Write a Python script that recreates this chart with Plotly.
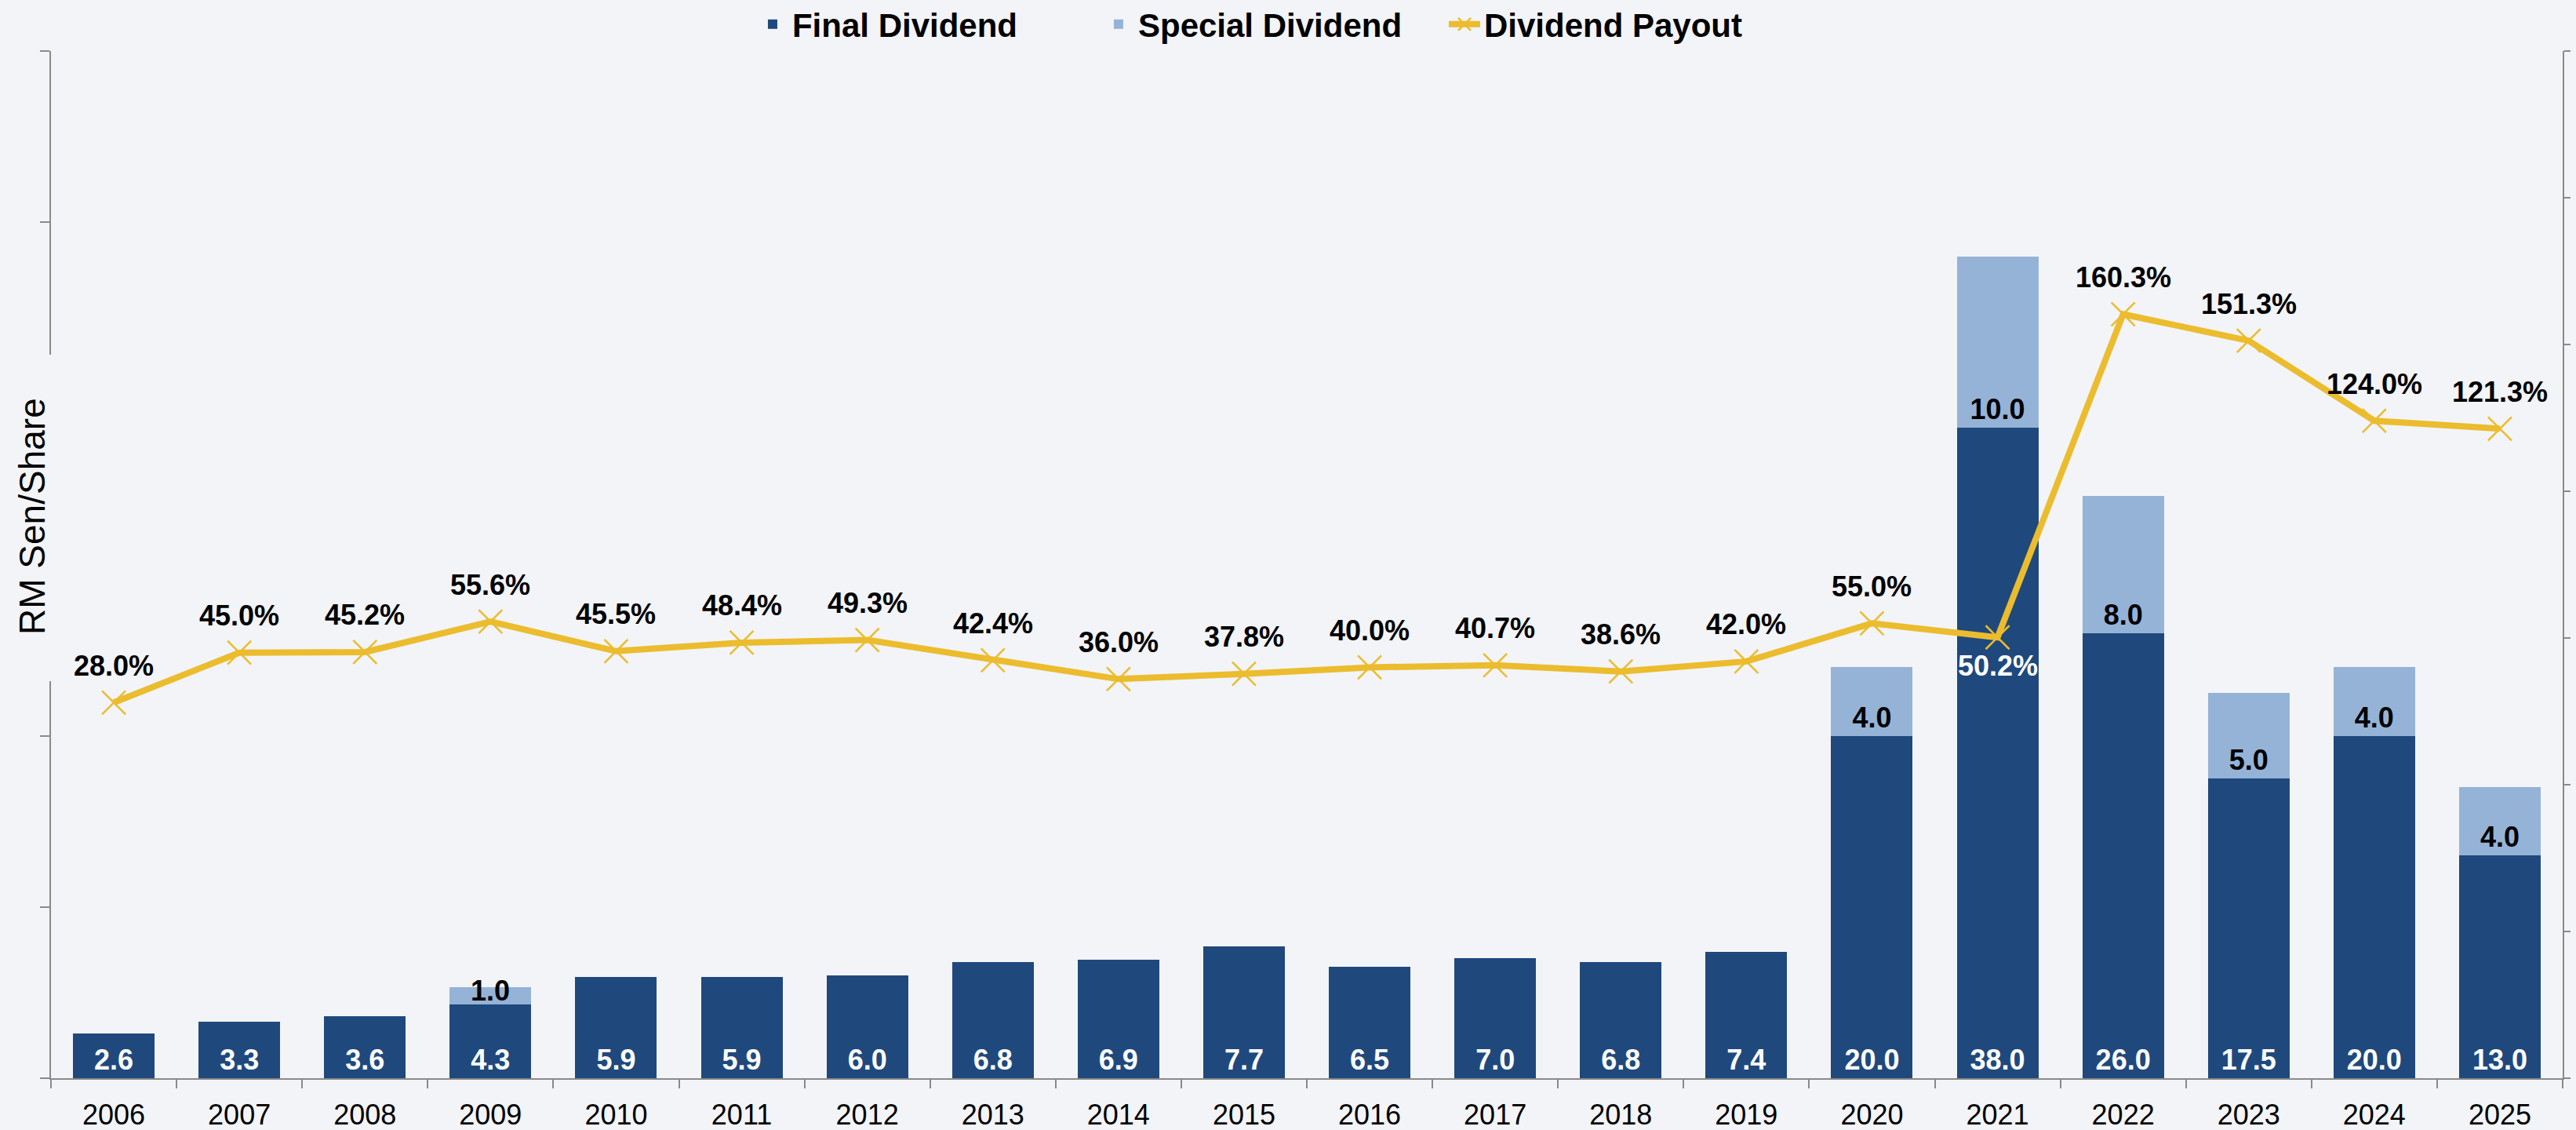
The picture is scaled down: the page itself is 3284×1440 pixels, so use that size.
import plotly.graph_objects as go

years = ["2006", "2007", "2008", "2009", "2010", "2011", "2012", "2013", "2014", "2015",
         "2016", "2017", "2018", "2019", "2020", "2021", "2022", "2023", "2024", "2025"]
final_div = [2.6, 3.3, 3.6, 4.3, 5.9, 5.9, 6.0, 6.8, 6.9, 7.7,
             6.5, 7.0, 6.8, 7.4, 20.0, 38.0, 26.0, 17.5, 20.0, 13.0]
special_div = [0, 0, 0, 1.0, 0, 0, 0, 0, 0, 0,
               0, 0, 0, 0, 4.0, 10.0, 8.0, 5.0, 4.0, 4.0]
payout = [28.0, 45.0, 45.2, 55.6, 45.5, 48.4, 49.3, 42.4, 36.0, 37.8,
          40.0, 40.7, 38.6, 42.0, 55.0, 50.2, 160.3, 151.3, 124.0, 121.3]
payout_label_below = ["2021"]

C_FINAL = "#1F497D"
C_SPECIAL = "#95B3D7"
C_LINE = "#EBBC2D"
BG = "#F3F4F7"
AX = "#8A8A8A"
FONT = "Liberation Sans, Arial, sans-serif"

fig = go.Figure()

fig.add_trace(go.Bar(
    x=years, y=final_div, name="Final Dividend",
    marker=dict(color=C_FINAL, line=dict(width=0)),
    text=[f"{v:.1f}" for v in final_div],
    textposition="inside", insidetextanchor="start", constraintext="none",
    textangle=0,
    textfont=dict(family=FONT, size=36, color="white", weight="bold"),
))

special_text = [f"{v:.1f}" if v >= 2 else "" for v in special_div]
fig.add_trace(go.Bar(
    x=years, y=special_div, name="Special Dividend",
    marker=dict(color=C_SPECIAL, line=dict(width=0)),
    text=special_text,
    textposition="inside", insidetextanchor="start", constraintext="none",
    textangle=0,
    textfont=dict(family=FONT, size=36, color="black", weight="bold"),
))

fig.add_trace(go.Scatter(
    x=years, y=payout, name="Dividend Payout", yaxis="y2",
    mode="lines+markers",
    line=dict(color=C_LINE, width=8),
    marker=dict(symbol="x-thin", size=30, color=C_LINE,
                line=dict(color=C_LINE, width=2.5)),
))

annotations = []
# small special-dividend labels that do not fit inside the segment
for i, (f, s) in enumerate(zip(final_div, special_div)):
    if 0 < s < 2:
        annotations.append(dict(
            x=i, y=f + s / 2, xref="x", yref="y", text=f"{s:.1f}",
            showarrow=False, yanchor="middle", yshift=7,
            font=dict(family=FONT, size=36, color="black", weight="bold")))

for i, (yr, p) in enumerate(zip(years, payout)):
    below = yr in payout_label_below
    annotations.append(dict(
        x=i, y=p, xref="x", yref="y2", text=f"{p:.1f}%",
        showarrow=False, yanchor="middle", yshift=-36 if below else 47,
        font=dict(family=FONT, size=36, color="white" if below else "black",
                  weight="bold")))

annotations.append(dict(
    x=-0.0075, y=0.547, xref="paper", yref="paper", text="RM Sen/Share",
    textangle=-90, showarrow=False, xanchor="center", yanchor="middle",
    font=dict(family=FONT, size=46, color="black")))

fig.update_layout(
    width=3284, height=1440,
    margin=dict(l=65, r=17, t=65, b=66, autoexpand=False),
    paper_bgcolor=BG, plot_bgcolor=BG,
    barmode="stack", bargap=0.35,
    font=dict(family=FONT, color="black"),
    showlegend=True,
    legend=dict(orientation="h", x=0.2795, xanchor="left", y=1.026,
                yanchor="middle", bgcolor="rgba(0,0,0,0)",
                font=dict(family=FONT, size=42, color="black", weight="bold"),
                itemwidth=40, entrywidth=386, entrywidthmode="pixels",
                traceorder="normal"),
    xaxis=dict(type="category", range=[-0.5, len(years) - 0.5],
               tickson="boundaries", ticks="outside",
               ticklen=11, tickwidth=2, tickcolor=AX, showline=True,
               linecolor=AX, linewidth=2, showgrid=False, tickangle=0,
               ticklabelstandoff=14,
               tickfont=dict(family=FONT, size=36, color="black")),
    yaxis=dict(range=[0, 60], dtick=10, ticks="outside", ticklen=12,
               tickwidth=2, tickcolor=AX, showline=True, linecolor=AX,
               linewidth=2, showgrid=False, zeroline=False,
               showticklabels=False),
    yaxis2=dict(range=[-100, 250], dtick=50, overlaying="y", side="right",
                ticks="outside", ticklen=8, tickwidth=2, tickcolor=AX,
                showline=True, linecolor=AX, linewidth=2, showgrid=False,
                zeroline=False, showticklabels=False),
    annotations=annotations,
    shapes=[dict(type="rect", xref="paper", yref="paper",
                 x0=-0.0047, x1=0.0009, y0=0.3866, y1=0.7044,
                 fillcolor=BG, line=dict(width=0), layer="above")],
)

fig.write_html("out.html")
